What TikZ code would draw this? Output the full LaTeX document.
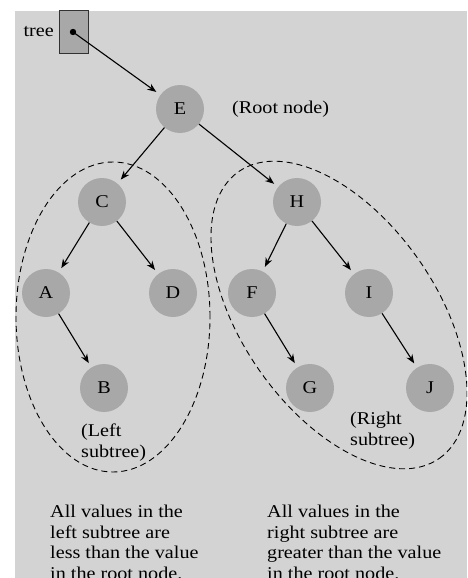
\documentclass[tikz,border=0pt]{standalone}
\usepackage{fontspec}
\setmainfont[FakeStretch=1.12]{Liberation Serif}
\usetikzlibrary{arrows.meta}
\definecolor{panel}{RGB}{211,211,211}
\definecolor{nodefill}{RGB}{168,168,168}
\definecolor{boxedge}{RGB}{50,50,50}
\tikzset{
  treenode/.style={circle, fill=nodefill, minimum size=48pt, inner sep=0pt, font=\fontsize{18}{21}\selectfont},
  link/.style={line width=1.1pt, -{Stealth[length=9pt,width=7pt]}, shorten >=5pt},
  region/.style={line width=0.9pt, dash pattern=on 6pt off 4pt},
  caption/.style={inner sep=0pt, align=left, font=\fontsize{18}{20.5}\selectfont},
}
\begin{document}
\begin{tikzpicture}[x=1pt,y=-1pt]
  \useasboundingbox (0,0) rectangle (467,578);
  \clip (0,0) rectangle (467,578);
  \fill[panel] (15,11) rectangle (467,578);

  % external pointer
  \node[draw=boxedge, fill=nodefill, line width=1pt, minimum width=29pt, minimum height=43pt, inner sep=0pt] (ptr) at (73.5,32.5) {};
  \node[caption, anchor=east] (treelabel) at (54,32) {tree};
  \fill (73,32) circle (3.2pt);
  \coordinate (dot) at (73,32);

  % nodes
  \node[treenode] (E) at (180,109) {E};
  \node[treenode] (C) at (102,202) {C};
  \node[treenode] (H) at (297,202) {H};
  \node[treenode] (A) at (46,293) {A};
  \node[treenode] (D) at (173,293) {D};
  \node[treenode] (F) at (252,293) {F};
  \node[treenode] (I) at (369,293) {I};
  \node[treenode] (B) at (104,388) {B};
  \node[treenode] (G) at (310,388) {G};
  \node[treenode] (J) at (430,388) {J};

  % subtree regions
  \draw[region] (113,317) ellipse [x radius=97pt, y radius=155pt];
  \draw[region] (339,315) ellipse [x radius=175pt, y radius=97pt, rotate=-55];

  % links
  \draw[link] (dot) -- (E);
  \draw[link] (E) -- (C);
  \draw[link] (E) -- (H);
  \draw[link] (C) -- (A);
  \draw[link] (C) -- (D);
  \draw[link] (A) -- (B);
  \draw[link] (H) -- (F);
  \draw[link] (H) -- (I);
  \draw[link] (F) -- (G);
  \draw[link] (I) -- (J);

  % labels (base anchor sits on the last line of each block)
  \node[caption, anchor=west] (rootlabel) at (232,109) {(Root node)};
  \node[caption, anchor=base west] (leftlabel) at (81,457) {(Left\\subtree)};
  \node[caption, anchor=base west] (rightlabel) at (350,445) {(Right\\subtree)};
  \node[caption, anchor=base west] (leftnote) at (50,579) {All values in the\\left subtree are\\less than the value\\in the root node.};
  \node[caption, anchor=base west] (rightnote) at (267,579) {All values in the\\right subtree are\\greater than the value\\in the root node.};
\end{tikzpicture}
\end{document}
